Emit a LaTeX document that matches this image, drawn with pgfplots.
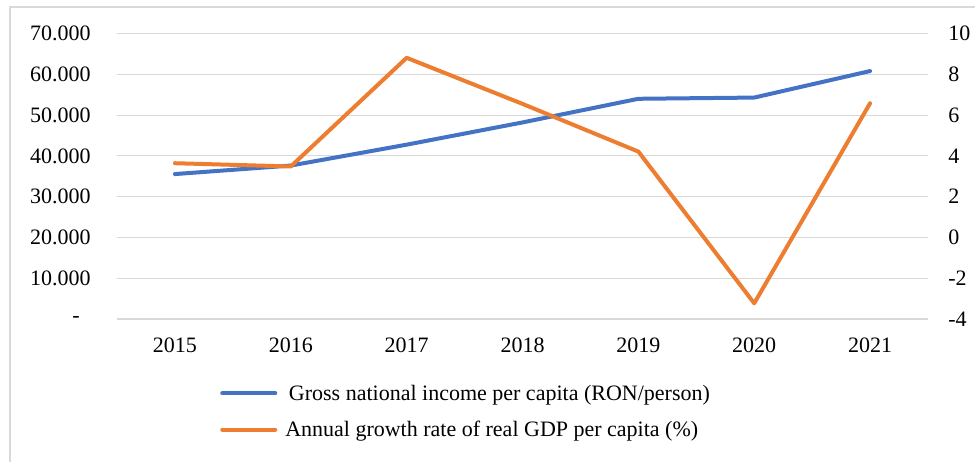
\documentclass[border=0pt]{standalone}
\usepackage{pgfplots}
\pgfplotsset{compat=1.18}
\usepackage{pgfplotstable}
\usepackage{fontspec}
\setmainfont{Liberation Serif}
\definecolor{cblue}{HTML}{4472C4}
\definecolor{corange}{HTML}{ED7D31}
\definecolor{cgrid}{HTML}{D9D9D9}
\pgfplotstableread{
x gni growth
0 35540 3.64
1 37630 3.48
2 42750 8.81
3 48200 6.55
4 54000 4.21
5 54300 -3.23
6 60800 6.58
}\datatable
\begin{document}
\begin{tikzpicture}[x=0.75pt,y=0.75pt]
\path[use as bounding box] (-117,-142) rectangle (858,319);
\draw[cgrid, line width=1.2pt] (-107,-160) -- (-107,312) -- (900,312);
\begin{axis}[
  at={(0,0)}, anchor=south west,
  scale only axis, width=608.25pt, height=214.1pt,
  xmin=-0.5, xmax=6.5, ymin=0, ymax=70000,
  axis x line*=bottom, axis y line*=left,
  axis line style={draw=none},
  tick style={draw=none},
  xtick={0,...,6},
  xticklabels={2015,2016,2017,2018,2019,2020,2021},
  ytick={0,10000,...,70000},
  yticklabels={{-\kern8.25pt\null},10.000,20.000,30.000,40.000,50.000,60.000,70.000},
  scaled y ticks=false,
  ymajorgrids, grid style={cgrid, line width=0.8pt},
  ticklabel style={font=\fontsize{16.5}{19.8}\selectfont},
  xticklabel style={anchor=north, inner sep=0pt, yshift=-13.9pt},
  yticklabel style={anchor=east, inner sep=0pt, xshift=-19.5pt},
  legend style={draw=none, at={(0.127,-0.25)}, anchor=north west, inner sep=0pt,
    font=\fontsize{16.5}{19.8}\selectfont, row sep=17.25pt, column sep=6pt,
    nodes={inner sep=0pt, text height=0.75em, text depth=0.25em}},
  legend cell align=left,
  legend image code/.code={\draw[#1] (0pt,0.3em) -- (39.75pt,0.3em);},
]
\addplot[cblue, line width=3pt, line join=round, line cap=round] table[x=x, y=gni] {\datatable};
\addlegendentry{\,Gross national income per capita (RON/person)}
\addlegendimage{corange, line width=3pt, line cap=round}
\addlegendentry{Annual growth rate of real GDP per capita (\%)}
\end{axis}
\begin{axis}[
  at={(0,0)}, anchor=south west,
  scale only axis, width=608.25pt, height=214.1pt,
  xmin=-0.5, xmax=6.5, ymin=-4, ymax=10,
  axis x line=none, axis y line*=right,
  axis line style={draw=none},
  tick style={draw=none},
  ytick={-4,-2,...,10},
  yticklabels={-4,-2,0,2,4,6,8,10},
  ticklabel style={font=\fontsize{16.5}{19.8}\selectfont},
  yticklabel style={anchor=west, inner sep=0pt, xshift=15pt},
]
\addplot[corange, line width=3pt, line join=round, line cap=round] table[x=x, y=growth] {\datatable};
\end{axis}
\end{tikzpicture}
\end{document}
